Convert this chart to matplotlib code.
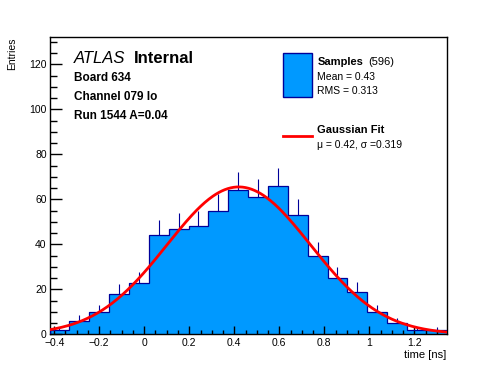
import numpy as np
import matplotlib
matplotlib.use("Agg")
import matplotlib.pyplot as plt
from matplotlib.patches import Rectangle
from matplotlib.lines import Line2D
from matplotlib.ticker import MultipleLocator

plt.rcParams['font.family'] = ['Liberation Sans', 'DejaVu Sans']

# ---- data ----
x_lo, x_hi, n_bins = -0.421, 1.344, 20
counts = [2, 6, 10, 18, 23, 44, 47, 48, 55, 64, 61, 66, 53, 35, 25, 19, 10, 5, 2, 2]
fit_mu, fit_sigma, fit_amp = 0.42, 0.319, 65.5
n_entries = 596
mean_val, rms_val = 0.43, 0.313
y_max = 132

W, H = 496, 372
fig = plt.figure(figsize=(W / 100, H / 100), dpi=100)
L, R, B, T = 49.5, 446.7, 334.3, 37.3
ax = fig.add_axes([L / W, 1 - B / H, (R - L) / W, (B - T) / H])

edges = np.linspace(x_lo, x_hi, n_bins + 1)
centers = 0.5 * (edges[:-1] + edges[1:])
counts = np.array(counts, dtype=float)

fill_c = '#0099FF'
edge_c = '#000099'
ax.vlines(centers, counts, counts + np.sqrt(counts), color=edge_c, lw=0.8, zorder=2)
ax.stairs(counts, edges, fill=True, color=fill_c, zorder=1)
ax.stairs(counts, edges, fill=False, color=edge_c, lw=0.9, baseline=0, zorder=3)

xf = np.linspace(x_lo, x_hi, 400)
yf = fit_amp * np.exp(-(xf - fit_mu) ** 2 / (2 * fit_sigma ** 2))
ax.plot(xf, yf, color='red', lw=2, zorder=4)

ax.set_xlim(x_lo, x_hi)
ax.set_ylim(0, y_max)
ax.xaxis.set_major_locator(MultipleLocator(0.2))
ax.xaxis.set_minor_locator(MultipleLocator(0.05))
ax.yaxis.set_major_locator(MultipleLocator(20))
ax.yaxis.set_minor_locator(MultipleLocator(5))
ax.tick_params(which='both', direction='in', top=False, right=False, labelsize=7.5, width=1)
ax.tick_params(axis='x', which='major', length=6, pad=3)
ax.tick_params(axis='x', which='minor', length=3)
ax.tick_params(axis='y', which='major', length=8.5, pad=2)
ax.tick_params(axis='y', which='minor', length=4.7)
ax.xaxis.set_major_formatter(plt.FuncFormatter(lambda v, p: ('%g' % round(v, 6)).replace('-', '\u2212')))
for s in ax.spines.values():
    s.set_linewidth(1)

def fx(px):
    return px / W

def fy(py):
    return 1 - py / H

fig.text(fx(12), fy(37.3), 'Entries', rotation=90, ha='center', va='top', fontsize=7.5)
fig.text(fx(446.7), fy(355), 'time [ns]', ha='right', va='center', fontsize=8)

fig.text(fx(74), fy(62.7), 'ATLAS', style='italic', fontsize=12, ha='left', va='baseline')
fig.text(fx(134), fy(62.7), 'Internal', weight='bold', fontsize=12, ha='left', va='baseline')
fig.text(fx(74), fy(81), 'Board 634', weight='bold', fontsize=8.5, ha='left', va='baseline')
fig.text(fx(74), fy(100), 'Channel 079 lo', weight='bold', fontsize=8.5, ha='left', va='baseline')
fig.text(fx(74), fy(118.7), 'Run 1544 A=0.04', weight='bold', fontsize=8.5, ha='left', va='baseline')

# legend
fig.patches.append(Rectangle((fx(283), fy(96.7)), fx(312) - fx(283), fy(53.3) - fy(96.7),
                             transform=fig.transFigure, facecolor=fill_c, edgecolor=edge_c, lw=1))
fig.lines.append(Line2D([fx(283), fx(312)], [fy(136), fy(136)], transform=fig.transFigure,
                        color='red', lw=2))
fig.text(fx(317.3), fy(65), 'Samples', weight='bold', fontsize=8, ha='left', va='baseline')
fig.text(fx(368), fy(65), '(%d)' % n_entries, fontsize=8, ha='left', va='baseline')
fig.text(fx(317.3), fy(80), 'Mean = %.2f' % mean_val, fontsize=7.5, ha='left', va='baseline')
fig.text(fx(317.3), fy(94), 'RMS = %.3f' % rms_val, fontsize=7.5, ha='left', va='baseline')
fig.text(fx(317.3), fy(133.3), 'Gaussian Fit', weight='bold', fontsize=8, ha='left', va='baseline')
fig.text(fx(317.3), fy(147.5), '\u03bc = %.2f, \u03c3 =%.3f' % (fit_mu, fit_sigma), fontsize=7.5,
         ha='left', va='baseline')

fig.savefig('out.png', dpi=100)
